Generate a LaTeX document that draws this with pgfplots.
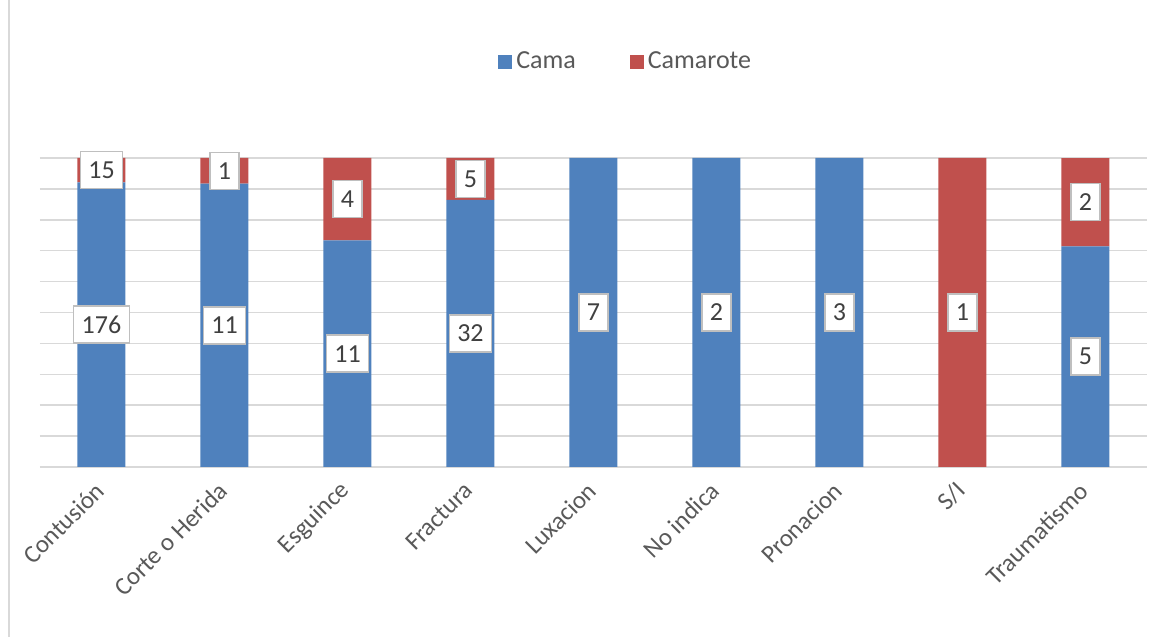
\documentclass[border=0pt]{standalone}
\usepackage{pgfplots}
\pgfplotsset{compat=1.18}
\usepackage{pgfplotstable}
\usepackage{fontspec}
\setmainfont{Carlito}
\definecolor{camablue}{HTML}{4F81BD}
\definecolor{camared}{HTML}{C0504D}
\definecolor{gridgray}{HTML}{D9D9D9}
\definecolor{txt}{HTML}{595959}
\definecolor{lbl}{HTML}{404040}
\definecolor{boxgray}{HTML}{BFBFBF}

\pgfplotstableread{
x Cama Camarote
0 176 15
1 11 1
2 11 4
3 32 5
4 7 0
5 2 0
6 3 0
7 0 1
8 5 2
}\data

\pgfplotsset{common/.style={
  scale only axis, width=553.5pt, height=154.5pt,
  xmin=-0.5, xmax=8.5, ymin=0, ymax=100,
  at={(20pt,85pt)}, anchor=south west}}

\begin{document}
\begin{tikzpicture}
\draw[gridgray, line width=0.75pt] (4.5pt,0) -- (4.5pt,318.5pt);
\begin{axis}[common,
  ybar stacked, bar width=24pt,
  axis line style={draw=none},
  major tick length=0pt,
  ymajorgrids, grid style={gridgray, line width=0.75pt},
  ytick={0,10,...,100}, yticklabels={},
  xtick={0,...,8},
  xticklabels={Contusión,Corte o Herida,Esguince,Fractura,Luxacion,No indica,Pronacion,S/I,Traumatismo},
  xticklabel style={font=\fontsize{12.5}{15}\selectfont, text=txt, yshift=-9pt, rotate=45, anchor=east, inner sep=1pt},
  legend style={at={(0.53,1.311)}, anchor=center, draw=none, legend columns=2,
    font=\fontsize{13}{15}\selectfont, text=txt,
    /tikz/every even column/.append style={column sep=25pt}},
  legend image code/.code={\fill[#1] (-1.5pt,-3.5pt) rectangle (5.5pt,3.5pt);},
]
\addplot[fill=camablue, draw=none] table[x=x, y expr={100*\thisrow{Cama}/(\thisrow{Cama}+\thisrow{Camarote})}] {\data};
\addplot[fill=camared, draw=none] table[x=x, y expr={100*\thisrow{Camarote}/(\thisrow{Cama}+\thisrow{Camarote})}] {\data};
\legend{Cama, Camarote}
\end{axis}
\begin{axis}[common, hide axis, clip=false,
  /pgf/number format/assume math mode=true,
  nodes near coords, point meta=explicit,
  nodes near coords style={anchor=center, fill=white, draw=boxgray, line width=0.75pt,
    text=lbl, font=\fontsize{13}{15}\selectfont, inner xsep=4pt, minimum height=18.5pt},
]
\addplot[draw=none, mark=none, restrict expr to domain={\thisrow{Cama}}{0.5:100000}]
  table[x=x, y expr={50*\thisrow{Cama}/(\thisrow{Cama}+\thisrow{Camarote})}, meta=Cama] {\data};
\addplot[draw=none, mark=none, restrict expr to domain={\thisrow{Camarote}}{0.5:100000}]
  table[x=x, y expr={100-50*\thisrow{Camarote}/(\thisrow{Cama}+\thisrow{Camarote})}, meta=Camarote] {\data};
\end{axis}
\pgfresetboundingbox
\useasboundingbox (0,0) rectangle (584.5pt,318.5pt);
\end{tikzpicture}
\end{document}
